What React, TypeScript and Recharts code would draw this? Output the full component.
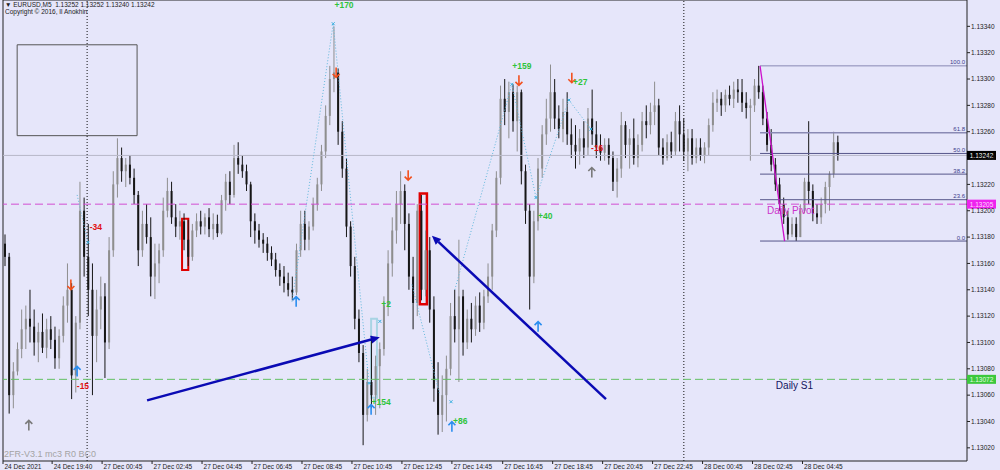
import React from 'react';
import { ComposedChart, Bar, XAxis, YAxis, ReferenceLine, ReferenceArea, ReferenceDot } from 'recharts';

// prices are kept in points (0.00001) above 1.13000
const BASE = 1.13;

const OPEN = [
  175, 165, 60, 78, 95, 110, 118, 112, 100, 108, 96, 110, 102, 88, 105, 128, 140, 75, 115, 200,
  165, 140, 105, 125, 135, 100, 170, 220, 240, 230, 235, 225, 212, 170, 190, 180, 150, 160, 170, 200,
  215, 195, 188, 192, 178, 165, 185, 192, 188, 195, 186, 190, 183, 208, 222, 212, 240, 235, 230, 220,
  192, 185, 178, 175, 168, 163, 155, 150, 145, 140, 138, 170, 190, 178, 188, 205, 220, 245, 272, 300,
  305, 260, 232, 188, 158, 118, 92, 45, 70, 60, 82, 95, 128, 160, 185, 205, 215, 190, 150, 130,
  200, 140, 170, 125, 65, 45, 60, 80, 120, 110, 135, 100, 118, 110, 128, 115, 135, 150, 185, 225,
  285, 275, 290, 268, 290, 230, 200, 150, 192, 232, 258, 270, 290, 270, 262, 275, 258, 250, 245, 255,
  248, 270, 258, 248, 244, 250, 240, 222, 232, 265, 250, 255, 240, 250, 268, 265, 275, 280, 248, 240,
  252, 245, 268, 258, 245, 255, 240, 248, 242, 248, 265, 282, 285, 280, 288, 285, 292, 290, 282, 278,
  280, 295, 290, 270, 250, 235, 220, 205, 195, 182, 190, 180, 200, 222, 215, 198, 195, 205, 218, 228,
  252,
];
const HIGH = [
  182, 168, 85, 100, 125, 128, 140, 125, 115, 122, 118, 120, 112, 110, 135, 160, 145, 120, 222, 210,
  190, 160, 140, 150, 145, 180, 230, 255, 248, 240, 242, 232, 215, 200, 205, 195, 175, 175, 210, 225,
  222, 205, 200, 198, 193, 190, 198, 200, 198, 202, 198, 197, 212, 228, 230, 250, 252, 242, 235, 222,
  198, 190, 183, 180, 173, 168, 160, 158, 153, 150, 175, 200, 200, 192, 210, 225, 250, 280, 310, 340,
  308, 268, 240, 192, 165, 125, 98, 80, 105, 90, 100, 135, 170, 195, 215, 230, 220, 198, 165, 205,
  212, 185, 180, 135, 85, 75, 90, 130, 140, 178, 140, 125, 130, 135, 138, 140, 160, 190, 230, 295,
  300, 298, 296, 295, 292, 235, 205, 200, 240, 265, 285, 311, 300, 280, 285, 290, 270, 265, 262, 268,
  278, 292, 268, 258, 255, 255, 245, 240, 275, 268, 262, 270, 258, 275, 280, 282, 298, 285, 255, 258,
  260, 275, 280, 270, 262, 262, 255, 255, 252, 270, 290, 292, 290, 292, 295, 298, 300, 300, 290, 285,
  300, 310, 295, 275, 262, 240, 225, 210, 200, 195, 195, 205, 225, 268, 220, 205, 210, 222, 230, 260,
  257,
];
const LOW = [
  158, 46, 50, 75, 88, 95, 100, 90, 85, 92, 88, 95, 80, 80, 100, 115, 57, 62, 110, 150,
  120, 60, 85, 110, 73, 95, 165, 210, 222, 218, 220, 205, 158, 165, 175, 135, 133, 145, 165, 195,
  190, 180, 178, 170, 158, 162, 180, 182, 182, 180, 178, 180, 182, 200, 205, 210, 228, 225, 215, 180,
  175, 172, 168, 162, 158, 150, 143, 138, 135, 132, 136, 165, 170, 170, 185, 200, 215, 240, 265, 290,
  250, 225, 180, 150, 110, 85, 22, 40, 50, 45, 50, 90, 120, 150, 175, 190, 170, 140, 110, 120,
  132, 135, 115, 55, 30, 32, 40, 75, 100, 70, 90, 95, 100, 105, 108, 110, 130, 140, 180, 220,
  265, 255, 260, 245, 220, 190, 125, 145, 185, 225, 250, 260, 262, 255, 252, 250, 240, 232, 235, 240,
  242, 250, 240, 238, 238, 235, 215, 210, 225, 240, 232, 235, 233, 245, 255, 258, 265, 242, 235, 238,
  240, 242, 245, 238, 230, 235, 236, 238, 236, 242, 260, 275, 272, 275, 280, 278, 282, 275, 270, 238,
  275, 285, 265, 245, 230, 215, 200, 190, 178, 180, 177, 180, 198, 205, 192, 190, 190, 198, 200, 225,
  238,
];
const CLOSE = [
  165, 60, 78, 95, 110, 118, 112, 100, 108, 96, 110, 102, 88, 105, 128, 140, 75, 115, 200, 165,
  140, 105, 125, 135, 100, 170, 220, 240, 230, 235, 225, 212, 170, 190, 180, 150, 160, 170, 200, 215,
  195, 188, 192, 178, 165, 185, 192, 188, 195, 186, 190, 183, 208, 222, 212, 240, 235, 230, 220, 192,
  185, 178, 175, 168, 163, 155, 150, 145, 140, 138, 170, 190, 178, 188, 205, 220, 245, 272, 300, 305,
  260, 232, 188, 158, 118, 92, 45, 70, 60, 82, 95, 128, 160, 185, 205, 215, 190, 150, 130, 200,
  140, 170, 125, 65, 45, 60, 80, 120, 110, 135, 100, 118, 110, 128, 115, 135, 150, 185, 225, 285,
  275, 290, 268, 290, 230, 200, 150, 192, 232, 258, 270, 290, 270, 262, 275, 258, 250, 245, 255, 248,
  270, 258, 248, 244, 250, 240, 222, 232, 265, 250, 255, 240, 250, 268, 265, 275, 280, 248, 240, 252,
  245, 268, 258, 245, 255, 240, 248, 242, 248, 265, 282, 285, 280, 288, 285, 292, 290, 282, 278, 280,
  295, 290, 270, 250, 235, 220, 205, 195, 182, 190, 180, 200, 222, 215, 198, 195, 205, 218, 228, 252,
  242,
];

const TIME_LABELS = [
  '24 Dec 2021', '24 Dec 19:40', '27 Dec 00:45', '27 Dec 02:45', '27 Dec 04:45', '27 Dec 06:45',
  '27 Dec 08:45', '27 Dec 10:45', '27 Dec 12:45', '27 Dec 14:45', '27 Dec 16:45', '27 Dec 18:45',
  '27 Dec 20:45', '27 Dec 22:45', '28 Dec 00:45', '28 Dec 02:45', '28 Dec 04:45',
];
const TIME_TICKS = [-0.5, 11.3, 23.3, 35.3, 47.3, 59.3, 71.3, 83.3, 95.3, 107.3, 119.5, 131.5, 143.5, 155.5, 167.5, 179.5, 191.5];
const PRICE_TICKS = [20, 40, 60, 80, 100, 120, 140, 160, 180, 200, 220, 240, 260, 280, 300, 320, 340];

const LAST_PRICE = 242;
const DAILY_PIVOT = 205;
const DAILY_S1 = 72;
const DAY_SEPARATORS = [19.7, 163.0];

const FIB_LOW = 177;
const FIB_HIGH = 310;
const FIB_RATIOS = [0, 23.6, 38.2, 50, 61.8, 100];
const FIB_START = 181.3;

const SELL_ARROWS = [
  { i: 15.8, v: 144 }, { i: 79.5, v: 305 }, { i: 96.8, v: 227 }, { i: 123.4, v: 299 }, { i: 136.1, v: 301 },
];
const BUY_ARROWS = [
  { i: 17.3, v: 78 }, { i: 69.9, v: 131 }, { i: 87.9, v: 49 }, { i: 107.3, v: 36 }, { i: 128.0, v: 112 },
];
const GREY_ARROWS = [{ i: 5.7, v: 37 }, { i: 140.9, v: 229 }];
const CROSSES = [
  { i: 78.8, v: 342 }, { i: 19.9, v: 176 }, { i: 90.0, v: 116 }, { i: 87.4, v: 69 }, { i: 107.1, v: 55 },
  { i: 121.7, v: 296 }, { i: 127.5, v: 210 }, { i: 135.4, v: 284 }, { i: 140.7, v: 262 },
];
const GAIN_LABELS = [
  { i: 81.4, v: 356, t: '+170' }, { i: 124.1, v: 310, t: '+159' }, { i: 138.1, v: 298, t: '+27' },
  { i: 129.7, v: 196, t: '+40' }, { i: 91.5, v: 129, t: '+2' }, { i: 90.3, v: 55, t: '+154' },
  { i: 109.3, v: 40, t: '+86' },
];
const LOSS_LABELS = [
  { i: 21.8, v: 188, t: '-34' }, { i: 18.7, v: 67, t: '-15' }, { i: 142.2, v: 248, t: '-16' },
];
const ZIGZAG = [
  [{ i: 17.3, v: 212 }, { i: 19.9, v: 176 }],
  [{ i: 68.9, v: 131 }, { i: 78.8, v: 342 }, { i: 87.4, v: 69 }],
  [{ i: 97.7, v: 144 }, { i: 104.4, v: 60 }],
  [{ i: 108.0, v: 140 }, { i: 121.7, v: 296 }, { i: 127.5, v: 210 }, { i: 135.4, v: 284 }, { i: 140.7, v: 262 }],
];
const TREND_ARROWS = [
  [{ i: 34.1, v: 56 }, { i: 90.0, v: 104 }],
  [{ i: 144.3, v: 57 }, { i: 102.5, v: 181 }],
];
const RED_BOXES = [
  { i1: 42.5, i2: 44.0, v1: 155, v2: 194, w: 2 },
  { i1: 99.6, i2: 101.3, v1: 129, v2: 213, w: 2.5 },
];
const SIGNAL_BOX = { i1: 87.9, i2: 89.3, v1: 58, v2: 118 };
const OBJECT_BOX = { i1: 2.9, i2: 31.7, v1: 257, v2: 326 };

const candles = OPEN.map((o, i) => ({ i, open: o, high: HIGH[i], low: LOW[i], close: CLOSE[i] }));

const FONT = '"Liberation Sans", Arial, sans-serif';
const BG = '#e6e6fa';
const INK = '#222';
const fmt = (v: number) => (BASE + v / 100000).toFixed(5);

function Candle(props: any) {
  const { x, y, width, height } = props;
  const p = props.payload ?? props;
  const top = Math.min(y, y + height);
  const h = Math.abs(height);
  const k = p.high > p.low ? h / (p.high - p.low) : 0;
  const yo = top + (p.high - p.open) * k;
  const yc = top + (p.high - p.close) * k;
  const color = p.close >= p.open ? '#8e8e8e' : '#161616';
  const cx = x + width / 2;
  return (
    <g>
      <line x1={cx} x2={cx} y1={top} y2={top + h} stroke={color} strokeWidth={1} />
      <rect x={x} y={Math.min(yo, yc)} width={width} height={Math.max(1, Math.abs(yc - yo))} fill={color} />
    </g>
  );
}

const arrowShape = (color: string, up: boolean) => (p: any) => {
  const { cx, cy } = p;
  const d = up
    ? `M${cx},${cy + 5} L${cx},${cy - 5} M${cx - 3.5},${cy - 1.5} L${cx},${cy - 5} L${cx + 3.5},${cy - 1.5}`
    : `M${cx},${cy - 5} L${cx},${cy + 5} M${cx - 3.5},${cy + 1.5} L${cx},${cy + 5} L${cx + 3.5},${cy + 1.5}`;
  return <path d={d} stroke={color} strokeWidth={1.6} fill="none" />;
};

const crossShape = (p: any) => (
  <path d={`M${p.cx - 1.5},${p.cy - 1.5} L${p.cx + 1.5},${p.cy + 1.5} M${p.cx - 1.5},${p.cy + 1.5} L${p.cx + 1.5},${p.cy - 1.5}`} stroke="#3ab0e0" strokeWidth={1} />
);

const textShape = (t: string, color: string, size: number, weight: any, anchor: any = 'middle', dx = 0, dy = 0) => (p: any) => (
  <text x={p.cx + dx} y={p.cy + dy} fill={color} fontSize={size} fontWeight={weight} textAnchor={anchor} dominantBaseline="central" fontFamily={FONT}>
    {t}
  </text>
);

const priceBox = (v: number, fill: string, color: string) => (p: any) => (
  <g>
    <rect x={p.cx} y={p.cy - 4.5} width={29} height={9} fill={fill} />
    <text x={p.cx + 14.5} y={p.cy + 0.5} fill={color} fontSize={6.5} textAnchor="middle" dominantBaseline="central" fontFamily={FONT}>
      {fmt(v)}
    </text>
  </g>
);

const TrendArrow = (p: any) => {
  const { x1, y1, x2, y2 } = p;
  const a = Math.atan2(y2 - y1, x2 - x1);
  const bx = x2 - 9 * Math.cos(a);
  const by = y2 - 9 * Math.sin(a);
  const px = -Math.sin(a) * 4;
  const py = Math.cos(a) * 4;
  return (
    <g>
      <line x1={x1} y1={y1} x2={bx} y2={by} stroke="#0a0ab4" strokeWidth={2.5} />
      <polygon points={`${x2},${y2} ${bx + px},${by + py} ${bx - px},${by - py}`} fill="#0a0ab4" />
    </g>
  );
};

const TimeTick = (p: any) => (
  <text x={p.x + 1.5} y={p.y + 5} fill={INK} fontSize={6.5} fontFamily={FONT} textAnchor="start">
    {TIME_LABELS[p.index]}
  </text>
);

const PriceTick = (p: any) => (
  <text x={p.x} y={p.y + 2.3} fill={INK} fontSize={6.5} fontFamily={FONT} textAnchor="start">
    {fmt(p.payload.value)}
  </text>
);

export default function App() {
  return (
    <div style={{ position: 'absolute', left: 0, top: 0, width: 1000, height: 470, background: BG, overflow: 'hidden' }}>
      <ComposedChart width={1000} height={470} data={candles} margin={{ top: 0, right: 0, left: 3, bottom: 0 }}>
        <XAxis
          dataKey="i"
          type="number"
          domain={[-0.5, 231]}
          ticks={TIME_TICKS}
          interval={0}
          height={9}
          tickSize={3}
          tickMargin={0}
          tick={TimeTick}
          axisLine={{ stroke: INK }}
          tickLine={{ stroke: INK }}
        />
        <YAxis
          orientation="right"
          type="number"
          domain={[10, 360]}
          ticks={PRICE_TICKS}
          interval={0}
          width={33}
          tickSize={3}
          tickMargin={1}
          tick={PriceTick}
          axisLine={{ stroke: INK }}
          tickLine={{ stroke: INK }}
        />
        <ReferenceLine x={-0.5} stroke={INK} ifOverflow="visible" />
        <ReferenceLine y={360} stroke={INK} ifOverflow="visible" />
        <ReferenceArea x1={OBJECT_BOX.i1} x2={OBJECT_BOX.i2} y1={OBJECT_BOX.v1} y2={OBJECT_BOX.v2} fill="none" stroke="#555" strokeWidth={1} />
        {DAY_SEPARATORS.map((d) => (
          <ReferenceLine key={d} x={d} stroke="#111" strokeDasharray="1 2" />
        ))}
        <ReferenceLine y={LAST_PRICE} stroke="#b8b8c8" />
        <ReferenceLine y={DAILY_PIVOT} stroke="#d24ed2" strokeDasharray="8 4" />
        <ReferenceLine y={DAILY_S1} stroke="#62c062" strokeDasharray="8 4" />
        {FIB_RATIOS.map((r) => {
          const lvl = FIB_LOW + (r / 100) * (FIB_HIGH - FIB_LOW);
          return (
            <ReferenceLine
              key={'f' + r}
              segment={[{ x: FIB_START, y: lvl }, { x: 231, y: lvl }]}
              stroke={r === 61.8 || r === 100 ? '#8a8ab4' : '#55558a'}
              strokeWidth={r === 61.8 ? 1.5 : 1}
              ifOverflow="visible"
            />
          );
        })}
        <ReferenceLine segment={[{ x: FIB_START, y: FIB_HIGH }, { x: 187.2, y: FIB_LOW }]} stroke="#cc11cc" strokeWidth={1.3} />
        <ReferenceDot x={183} y={200} ifOverflow="visible" shape={textShape('Daily Pivot', '#cc33cc', 10, 400, 'start')} />
        <ReferenceDot x={185.1} y={67} ifOverflow="visible" shape={textShape('Daily S1', '#141460', 10, 400, 'start')} />
        {ZIGZAG.map((pts, k) =>
          pts.slice(1).map((pt, j) => (
            <ReferenceLine
              key={`z${k}-${j}`}
              segment={[{ x: pts[j].i, y: pts[j].v }, { x: pt.i, y: pt.v }]}
              stroke="#62b8dc"
              strokeDasharray="1 2"
            />
          )),
        )}
        <ReferenceArea x1={SIGNAL_BOX.i1} x2={SIGNAL_BOX.i2} y1={SIGNAL_BOX.v1} y2={SIGNAL_BOX.v2} fill="none" stroke="#a8d4e4" strokeWidth={2} />
        <Bar dataKey={(d: any) => [d.low, d.high]} barSize={2} isAnimationActive={false} shape={Candle} />
        {RED_BOXES.map((b, k) => (
          <ReferenceArea key={'rb' + k} x1={b.i1} x2={b.i2} y1={b.v1} y2={b.v2} fill="none" stroke="#e00000" strokeWidth={b.w} />
        ))}
        {TREND_ARROWS.map((s, k) => (
          <ReferenceLine key={'ta' + k} segment={[{ x: s[0].i, y: s[0].v }, { x: s[1].i, y: s[1].v }]} stroke="#0a0ab4" strokeWidth={2.5} shape={TrendArrow} />
        ))}
        {SELL_ARROWS.map((a, k) => (
          <ReferenceDot key={'s' + k} x={a.i} y={a.v} ifOverflow="visible" shape={arrowShape('#f2501e', false)} />
        ))}
        {BUY_ARROWS.map((a, k) => (
          <ReferenceDot key={'b' + k} x={a.i} y={a.v} ifOverflow="visible" shape={arrowShape('#2a8ef0', true)} />
        ))}
        {GREY_ARROWS.map((a, k) => (
          <ReferenceDot key={'g' + k} x={a.i} y={a.v} ifOverflow="visible" shape={arrowShape('#7a7a7a', true)} />
        ))}
        {CROSSES.map((a, k) => (
          <ReferenceDot key={'c' + k} x={a.i} y={a.v} ifOverflow="visible" shape={crossShape} />
        ))}
        {GAIN_LABELS.map((a, k) => (
          <ReferenceDot key={'gl' + k} x={a.i} y={a.v} ifOverflow="visible" shape={textShape(a.t, '#2ec43a', 8.5, 700)} />
        ))}
        {LOSS_LABELS.map((a, k) => (
          <ReferenceDot key={'ll' + k} x={a.i} y={a.v} ifOverflow="visible" shape={textShape(a.t, '#e01010', 8.5, 700)} />
        ))}
        {FIB_RATIOS.map((r) => (
          <ReferenceDot
            key={'fl' + r}
            x={231}
            y={FIB_LOW + (r / 100) * (FIB_HIGH - FIB_LOW)}
            ifOverflow="visible"
            shape={textShape(r.toFixed(1), '#3c3c8c', 6, 400, 'end', -2, -3.5)}
          />
        ))}
        <ReferenceDot x={231} y={LAST_PRICE} ifOverflow="visible" shape={priceBox(LAST_PRICE, '#000', '#fff')} />
        <ReferenceDot x={231} y={DAILY_PIVOT} ifOverflow="visible" shape={priceBox(DAILY_PIVOT, '#ee22ee', '#ffd8ff')} />
        <ReferenceDot x={231} y={DAILY_S1} ifOverflow="visible" shape={priceBox(DAILY_S1, '#3cc83c', '#e0ffe0')} />
      </ComposedChart>
      <div style={{ position: 'absolute', left: 5, top: 2, fontFamily: FONT, fontSize: 6.5, lineHeight: 1, color: INK, whiteSpace: 'pre' }}>
        {'▼ EURUSD,M5  1.13252 1.13252 1.13240 1.13242'}
      </div>
      <div style={{ position: 'absolute', left: 5, top: 8.5, fontFamily: FONT, fontSize: 6.5, lineHeight: 1, color: INK, whiteSpace: 'pre' }}>
        {'Copyright © 2016, Il Anokhin'}
      </div>
      <div style={{ position: 'absolute', left: 4, top: 450, fontFamily: FONT, fontSize: 9, lineHeight: 1, color: '#a4a4a4', whiteSpace: 'pre' }}>
        {'2FR-V3.1 mc3 R0 BC0'}
      </div>
    </div>
  );
}
